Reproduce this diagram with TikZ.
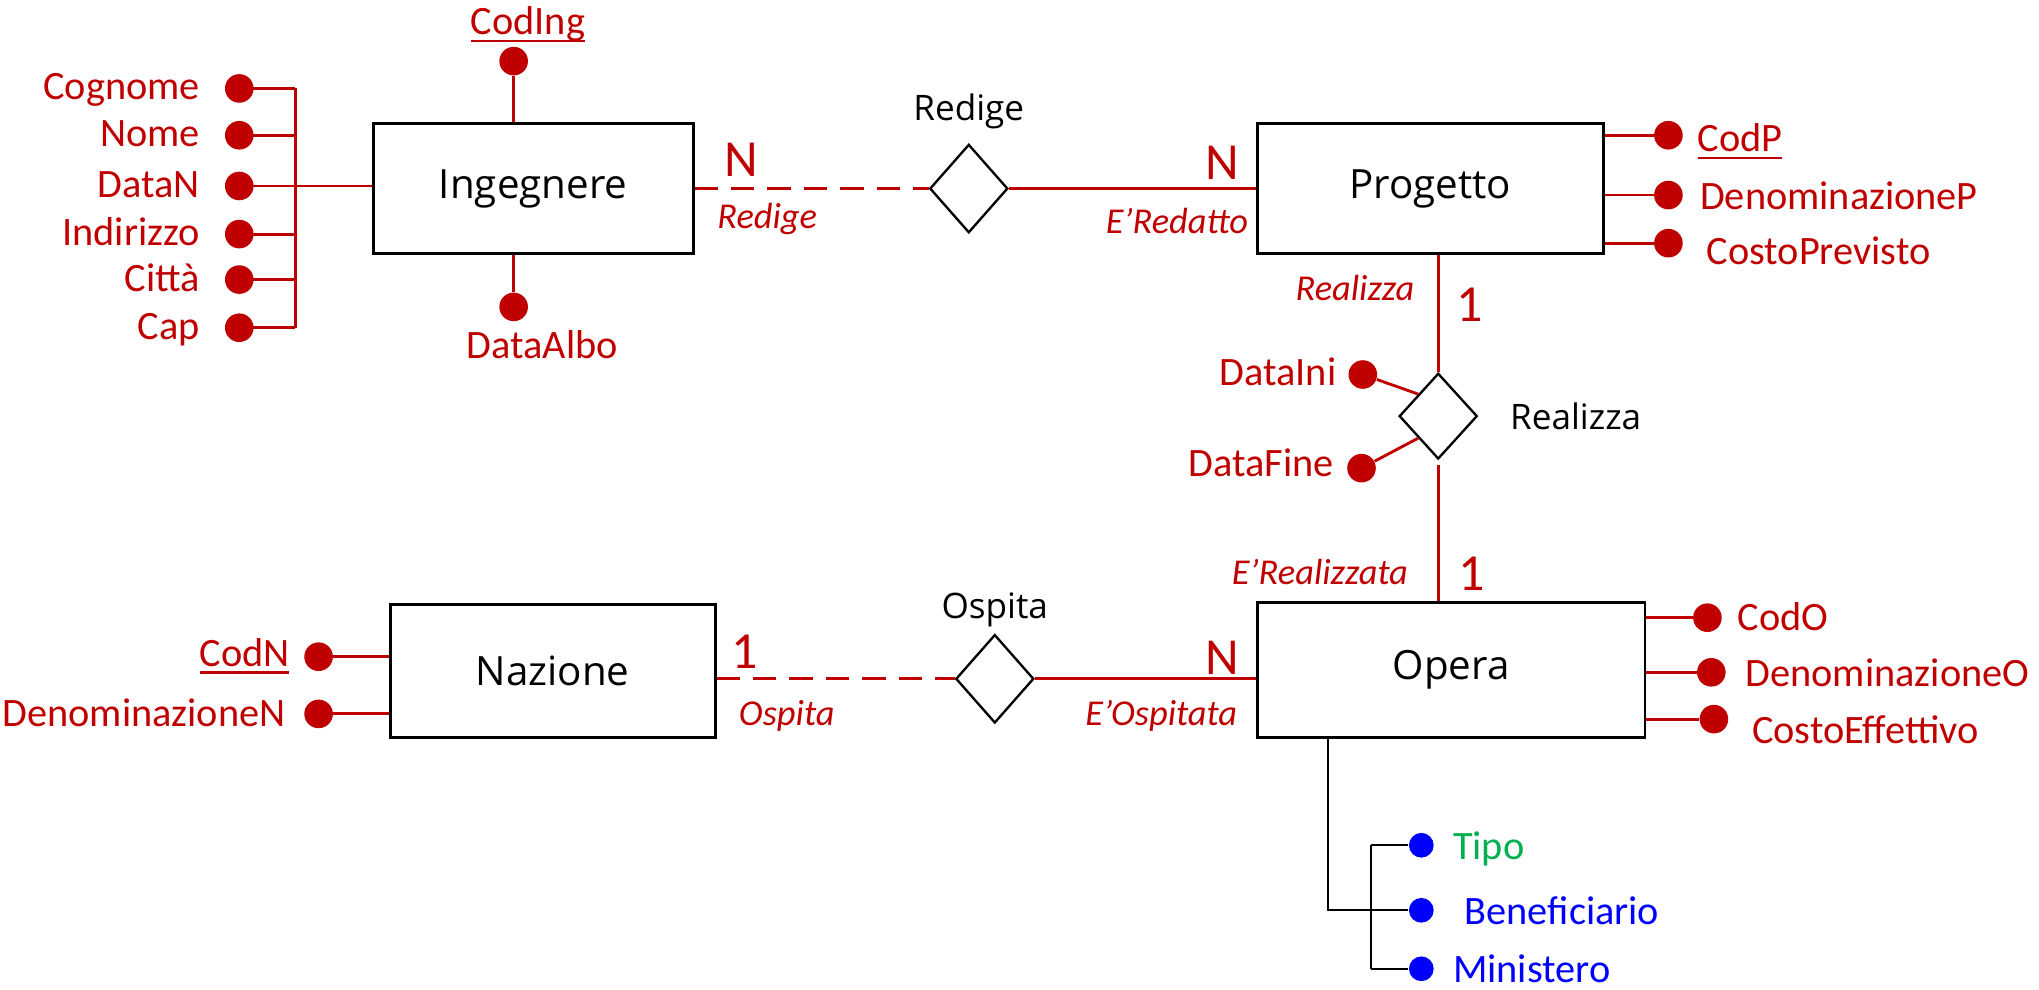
\documentclass[tikz,border=0pt]{standalone}
\usepackage{fontspec}
\setmainfont{Carlito}
\newfontfamily\boxfont{Open Sans}
\usetikzlibrary{shapes.geometric,positioning}
\definecolor{errosso}{RGB}{192,0,0}
\definecolor{erblu}{RGB}{0,0,255}
\definecolor{erverde}{RGB}{0,176,80}
\newcommand{\chiave}[1]{\setbox0\hbox{#1}\rlap{\vrule width\wd0 height -1.8pt depth 2.9pt}\box0}
\begin{document}
\begin{tikzpicture}[x=0.5pt,y=-0.5pt,
        entita/.style={draw,line width=1.1pt,inner sep=0pt,font=\boxfont\fontsize{15.5}{18}\selectfont},
        relaz/.style={diamond,draw,line width=0.9pt,inner sep=0pt,minimum width=30pt,minimum height=34pt},
        punto/.style={circle,fill=errosso,inner sep=0pt,minimum size=11pt},
        puntoblu/.style={circle,fill=erblu,inner sep=0pt,minimum size=9.5pt},
        attr/.style={text=errosso,inner sep=1pt,font=\fontsize{15.5}{18}\selectfont},
        ruolo/.style={text=errosso,inner sep=1pt,anchor=mid,font=\itshape\fontsize{14}{16}\selectfont},
        card/.style={text=errosso,inner sep=0pt,font=\fontsize{20}{22}\selectfont},
        nomerel/.style={inner sep=0pt,font=\boxfont\fontsize{13.5}{16}\selectfont},
        linea/.style={draw=errosso,line width=1.1pt},
        tratt/.style={linea,dash pattern=on 9pt off 5pt}]
    \useasboundingbox (0,0) rectangle (1568,761);
    \node[entita,minimum width=123pt,minimum height=50pt] (ing) at (410,145) {Ingegnere};
    \node[entita,minimum width=133pt,minimum height=50pt] (prog) at (1100,145) {Progetto};
    \node[entita,minimum width=149pt,minimum height=52pt] (opera) at (1116,515) {Opera};
    \node[entita,minimum width=125pt,minimum height=51pt] (naz) at (425,516) {Nazione};
    \node[relaz] (redige) at (745,145) {};
    \node[relaz,minimum height=33pt] (realizza) at (1106,320) {};
    \node[relaz] (ospita) at (765,522) {};
    \node[nomerel] (lredige) at (745,86) {Redige};
    \node[nomerel] (lospita) at (765,469) {Ospita};
    \node[nomerel,right=12pt of realizza] (lrealizza) {Realizza};
    \draw[tratt] (ing) -- (redige);
    \draw[linea] (redige) -- (prog);
    \draw[linea] (realizza.north) -- (realizza.north |- prog.south);
    \draw[linea] ([yshift=-2pt]realizza.south) -- (realizza.south |- opera.north);
    \draw[tratt] (ospita.west -| naz.east) -- (ospita.west);
    \draw[linea] (ospita.east) -- (ospita.east -| opera.west);
    \foreach \x/\y/\t [count=\i] in {570/123/N,940/125/N,1130/234/1,1132/441/1,573/501/1,940/506/N}
        \node[card] (card\i) at (\x,\y) {\t};
    \foreach \x/\y/\t [count=\i] in {590/171/Redige,905/175/E’Redatto,1042/226/Realizza,1015/445/E’Realizzata,605/553/Ospita,893/553/E’Ospitata}
        \node[ruolo] (ruolo\i) at (\x,\y) {\t};
    \coordinate (barI) at (227,0);
    \foreach \y/\t [count=\i] in {68/Cognome,104/Nome,143/DataN,180/Indirizzo,215/Città,252/Cap}{
        \draw[linea] (184,\y) -- (227,\y);
        \node[punto] (dI\i) at (184,\y) {};
        \node[attr,anchor=mid east] (tI\i) at (156,\y+4) {\t};
    }
    \draw[linea] (dI1 -| barI) -- (dI6 -| barI);
    \draw[linea] (dI3 -| barI) -- (dI3 -| ing.west);
    \node[punto] (dcod) at (395,47) {};
    \node[attr,anchor=mid] (tcod) at (406,22) {\chiave{CodIng}};
    \draw[linea] (dcod) -- (dcod |- ing.north);
    \node[punto] (dalbo) at (395,236) {};
    \node[attr,anchor=mid] (talbo) at (417,271) {DataAlbo};
    \draw[linea] (dalbo) -- (dalbo |- ing.south);
    \foreach \y/\ty/\tx/\t [count=\i] in {104/108/1303/\chiave{CodP},150/152/1305/DenominazioneP,187/195/1310/CostoPrevisto}{
        \node[punto] (dP\i) at (1283,\y) {};
        \node[attr,anchor=mid west] (tP\i) at (\tx,\ty+4) {\t};
        \draw[linea] (dP\i) -- (dP\i -| prog.east);
    }
    \foreach \x/\y/\tx/\ty/\t [count=\i] in {1313/475/1334/476/CodO,1316/517/1340/519/DenominazioneO,1318/553/1345/563/CostoEffettivo}{
        \node[punto] (dO\i) at (\x,\y) {};
        \node[attr,anchor=mid west] (tO\i) at (\tx,\ty+4) {\t};
        \draw[linea] (dO\i) -- (dO\i -| opera.east);
    }
    \foreach \y/\tx/\ty/\t [count=\i] in {505/225/504/\chiave{CodN},549/222/550/DenominazioneN}{
        \node[punto] (dN\i) at (245,\y) {};
        \node[attr,anchor=mid east] (tN\i) at (\tx,\ty+4) {\t};
        \draw[linea] (dN\i) -- (dN\i -| naz.west);
    }
    \node[punto] (dini) at (1048,288) {};
    \node[attr,anchor=mid east] (tini) at (1030,292) {DataIni};
    \draw[linea] (dini) -- (realizza.north west);
    \node[punto] (dfine) at (1047,360) {};
    \node[attr,anchor=mid east] (tfine) at (1028,362) {DataFine};
    \draw[linea] (dfine) -- (realizza.south west);
    \coordinate (barG) at (1054,0);
    \foreach \y/\c/\tx/\t [count=\i] in {650/erverde/1115/Tipo,700/erblu/1124/Beneficiario,745/erblu/1115/Ministero}{
        \node[puntoblu] (dG\i) at (1093,\y) {};
        \node[attr,text=\c,anchor=mid west] (tG\i) at (\tx,\y+6) {\t};
        \draw[line width=0.8pt] (dG\i) -- (dG\i -| barG);
    }
    \draw[line width=0.8pt] (dG1 -| barG) -- (dG3 -| barG);
    \draw[line width=0.8pt] (opera.south west) ++(55,0) |- (dG2);
\end{tikzpicture}
\end{document}
